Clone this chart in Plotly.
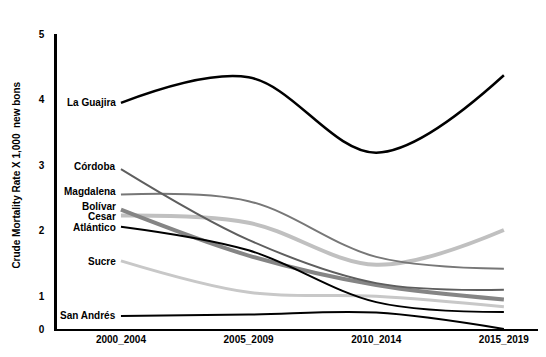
import plotly.graph_objects as go

periods = ["2000_2004", "2005_2009", "2010_2014", "2015_2019"]

la_guajira = [3.95, 4.34, 3.19, 4.37]
cordoba    = [2.94, 1.86, 1.20, 1.10]
magdalena  = [2.55, 2.45, 1.60, 1.42]
bolivar    = [2.32, 1.62, 1.17, 0.95]
cesar      = [2.23, 2.12, 1.48, 2.01]
atlantico  = [2.06, 1.70, 0.91, 0.76]
sucre      = [1.54, 1.06, 1.00, 0.84]
san_andres = [0.70, 0.72, 0.75, 0.50]

series = [
    ("Sucre", sucre, "#c8c8c8", 3),
    ("Cesar", cesar, "#c0c0c0", 4),
    ("Bolívar", bolivar, "#858585", 4),
    ("Magdalena", magdalena, "#777777", 2),
    ("Córdoba", cordoba, "#5e5e5e", 2),
    ("Atlántico", atlantico, "#000000", 2),
    ("San Andrés", san_andres, "#000000", 2),
    ("La Guajira", la_guajira, "#000000", 2.5),
]

label_shift = {"La Guajira": 0, "Córdoba": 3, "Magdalena": 3, "Bolívar": 3,
               "Cesar": -1, "Atlántico": -1, "Sucre": -1, "San Andrés": 0}

FONT = "Arial, Liberation Sans, sans-serif"

fig = go.Figure()
xs = list(range(len(periods)))
for name, vals, color, w in series:
    fig.add_trace(go.Scatter(
        x=xs, y=vals, mode="lines", name=name,
        line=dict(color=color, width=w, shape="spline", smoothing=1.0),
        showlegend=False, hoverinfo="skip"))
    fig.add_annotation(x=0, y=vals[0], xref="x", yref="y", text=name,
                       showarrow=False, xanchor="right", yanchor="middle",
                       xshift=-3, yshift=label_shift[name],
                       font=dict(family=FONT, size=10, color="#000000"))

fig.add_annotation(x=0, y=0.52, xref="paper", yref="paper",
                   text="Crude Mortality Rate X 1,000  new bons",
                   textangle=-90, showarrow=False, xanchor="center",
                   yanchor="middle", xshift=-40,
                   font=dict(family=FONT, size=10, color="#000000"))

# the page body has an 8px default margin, so the figure is sized to fit
fig.update_layout(
    width=538, height=349,
    margin=dict(l=49, r=0, t=26, b=28),
    paper_bgcolor="white", plot_bgcolor="white",
    font=dict(family=FONT, size=10, color="#000000"),
    xaxis=dict(range=[-0.501, 3.33], tickmode="array", tickvals=xs,
               ticktext=["<b>%s</b>" % p for p in periods],
               showgrid=False, zeroline=False, showline=True,
               linecolor="#000000", linewidth=2, ticks="",
               tickfont=dict(family=FONT, size=10, color="#000000")),
    yaxis=dict(range=[0.5, 5], tickmode="array",
               tickvals=[0.5, 1, 2, 3, 4, 5],
               ticktext=["<b>0</b>", "<b>1</b>", "<b>2</b>", "<b>3</b>", "<b>4</b>", "<b>5</b>"],
               showgrid=False, zeroline=False, showline=True,
               linecolor="#000000", linewidth=2.5, ticks="",
               ticklabelstandoff=8,
               tickfont=dict(family=FONT, size=10, color="#000000")),
)
for ann in fig.layout.annotations:
    ann.text = "<b>%s</b>" % ann.text

fig.write_html("out.html")
